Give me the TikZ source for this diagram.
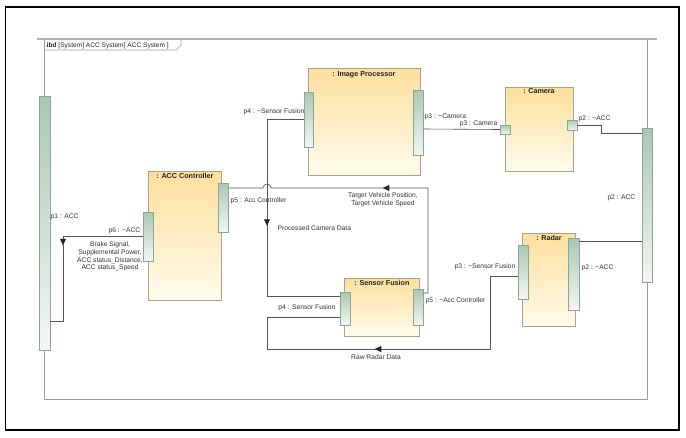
\documentclass[tikz,border=0pt]{standalone}
\usepackage{fontspec}
\setmainfont{Liberation Sans}
\usetikzlibrary{shadows,decorations.markings,arrows.meta}
\definecolor{partTop}{HTML}{FCDF9C}
\definecolor{partBot}{HTML}{FFFBEC}
\definecolor{partLine}{HTML}{A9A38E}
\definecolor{portTop}{HTML}{A9C7B3}
\definecolor{portBot}{HTML}{F2F7F3}
\definecolor{portLine}{HTML}{8FA596}
\definecolor{connCol}{HTML}{555555}
\definecolor{frameCol}{HTML}{9C9C9C}
\begin{document}
\begin{tikzpicture}[x=1pt,y=-1pt,
  part/.style={draw=partLine, line width=0.7pt, top color=partTop, bottom color=partBot,
    rectangle, inner sep=0pt,
    drop shadow={shadow xshift=1.3pt, shadow yshift=-1.3pt, fill=black!22}},
  port/.style={draw=portLine, line width=0.5pt, top color=portTop, bottom color=portBot,
    rectangle, inner sep=0pt},
  conn/.style={draw=connCol, line width=0.6pt},
  lbl/.style={font=\fontsize{6.7}{7.7}\selectfont, text=black!80, inner sep=0.5pt},
  ttl/.style={font=\fontsize{7.2}{8}\selectfont\bfseries, text=black!85, inner sep=0pt},
  arrowat/.style={postaction={decorate},
    decoration={markings, mark=at position #1 with {\arrow[black!85]{Triangle[length=6.5pt,width=6pt]}}}}
]
\useasboundingbox (0,0) rectangle (686,437);
\fill[white] (0,0) rectangle (686,437);
% outer border
\draw[black, line width=1.1pt] (5.5,7) rectangle (679,430);
% ibd frame
\draw[frameCol, line width=0.7pt] (44,39) rectangle (647,399);
\draw[black!30, line width=1.6pt] (37,39) -- (657,39);
\draw[frameCol, line width=0.6pt] (44,50) -- (176,50) -- (181,45) -- (181,39.5);
\node[lbl, anchor=west, text=black!85, font=\fontsize{6.6}{8}\selectfont] (hdr) at (46,45.3)
  {\textbf{ibd} [System] ACC System[ ACC System ]};

% parts
\node[part, minimum width=112pt, minimum height=107pt] (ip) at (364,121.5) {};
\node[ttl, anchor=north] (ipT) at (364,71) {: Image Processor};
\node[part, minimum width=68pt, minimum height=84pt] (cam) at (539,129) {};
\node[ttl, anchor=north] (camT) at (539,88) {: Camera};
\node[part, minimum width=73pt, minimum height=129pt] (acc) at (184.5,235.5) {};
\node[ttl, anchor=north] (accT) at (185,173) {: ACC Controller};
\node[part, minimum width=75pt, minimum height=58pt] (sf) at (381.5,307) {};
\node[ttl, anchor=north] (sfT) at (382,280) {: Sensor Fusion};
\node[part, minimum width=53pt, minimum height=93pt] (rad) at (548.5,279.5) {};
\node[ttl, anchor=north] (radT) at (549,235) {: Radar};

% ports
\node[port, minimum width=11pt, minimum height=254pt] (p1) at (44.5,223) {};
\node[port, minimum width=10pt, minimum height=154pt] (p2) at (647,205) {};
\node[port, minimum width=9pt, minimum height=55pt] (ipP4) at (308.5,119.5) {};
\node[port, minimum width=10pt, minimum height=65pt] (ipP3) at (418,122.5) {};
\node[port, minimum width=10pt, minimum height=9pt] (camP3) at (505,129.5) {};
\node[port, minimum width=10pt, minimum height=10pt] (camP2) at (572,125) {};
\node[port, minimum width=10pt, minimum height=49pt] (accP6) at (148,236.5) {};
\node[port, minimum width=10pt, minimum height=49pt] (accP5) at (223,207.5) {};
\node[port, minimum width=10pt, minimum height=33pt] (sfP4) at (345,308.5) {};
\node[port, minimum width=10pt, minimum height=36pt] (sfP5) at (418,307) {};
\node[port, minimum width=10pt, minimum height=54pt] (radP3) at (523,272) {};
\node[port, minimum width=11pt, minimum height=72pt] (radP2) at (573.5,274) {};

% connectors
\draw[conn, arrowat=143pt] (ipP4.west) -- (267,119.5) -- (267,296) -- ([yshift=12.5pt]sfP4.west);
\draw[conn, arrowat=216pt] ([yshift=-4pt]radP3.west) -- (490,276) -- (490,349) -- (267,349)
  -- (267,317) -- ([yshift=-8.5pt]sfP4.west);
\draw[conn, arrowat=155pt] ([yshift=14pt]sfP5.east) -- (428,293) -- (428,188) -- (271,188)
  arc[start angle=0, end angle=180, radius=4pt] -- ([yshift=19.5pt]accP5.east);
\draw[conn] ([yshift=-6.5pt]ipP3.east) -- (camP3.west);
\draw[conn] (camP2.east) -- (601,125) -- (601,133) -- ([yshift=72pt]p2.west);
\draw[conn] ([yshift=33pt]radP2.east) -- ([yshift=-36pt]p2.west);
\draw[conn, arrowat=89pt] ([yshift=0.5pt]accP6.west) -- (63,236) -- (63,321) -- ([yshift=-98pt]p1.east);

% labels
\node[lbl, anchor=east] (l1) at (305,112) {p4 : \textasciitilde Sensor Fusion};
\node[lbl, anchor=west] (l2) at (424,116.5) {p3 : \textasciitilde Camera};
\node[lbl, anchor=east] (l3) at (498,123.5) {p3 : Camera};
\node[lbl, anchor=west] (l4) at (578,119) {p2 : \textasciitilde ACC};
\node[lbl, anchor=east] (l5) at (636,198) {p2 : ACC};
\node[lbl, anchor=west] (l6) at (50,217) {p1 : ACC};
\node[lbl, anchor=east] (l7) at (141,231) {p6 : \textasciitilde ACC};
\node[lbl, align=center] (l8) at (110,256.5) {Brake Signal,\\Supplemental Power,\\ACC status\_Distance,\\ACC status\_Speed};
\node[lbl, anchor=west] (l9) at (230,201) {p5 : Acc Controller};
\node[lbl, align=center] (l10) at (383,200) {Target Vehicle Position,\\Target Vehicle Speed};
\node[lbl, anchor=west] (l11) at (277,228) {Processed Camera Data};
\node[lbl, anchor=west] (l12) at (425,301) {p5 : \textasciitilde Acc Controller};
\node[lbl, anchor=east] (l13) at (336,308) {p4 : Sensor Fusion};
\node[lbl] (l14) at (376,357) {Raw Radar Data};
\node[lbl, anchor=east] (l15) at (516,267) {p3 : \textasciitilde Sensor Fusion};
\node[lbl, anchor=west] (l16) at (581,268) {p2 : \textasciitilde ACC};
\end{tikzpicture}
\end{document}
